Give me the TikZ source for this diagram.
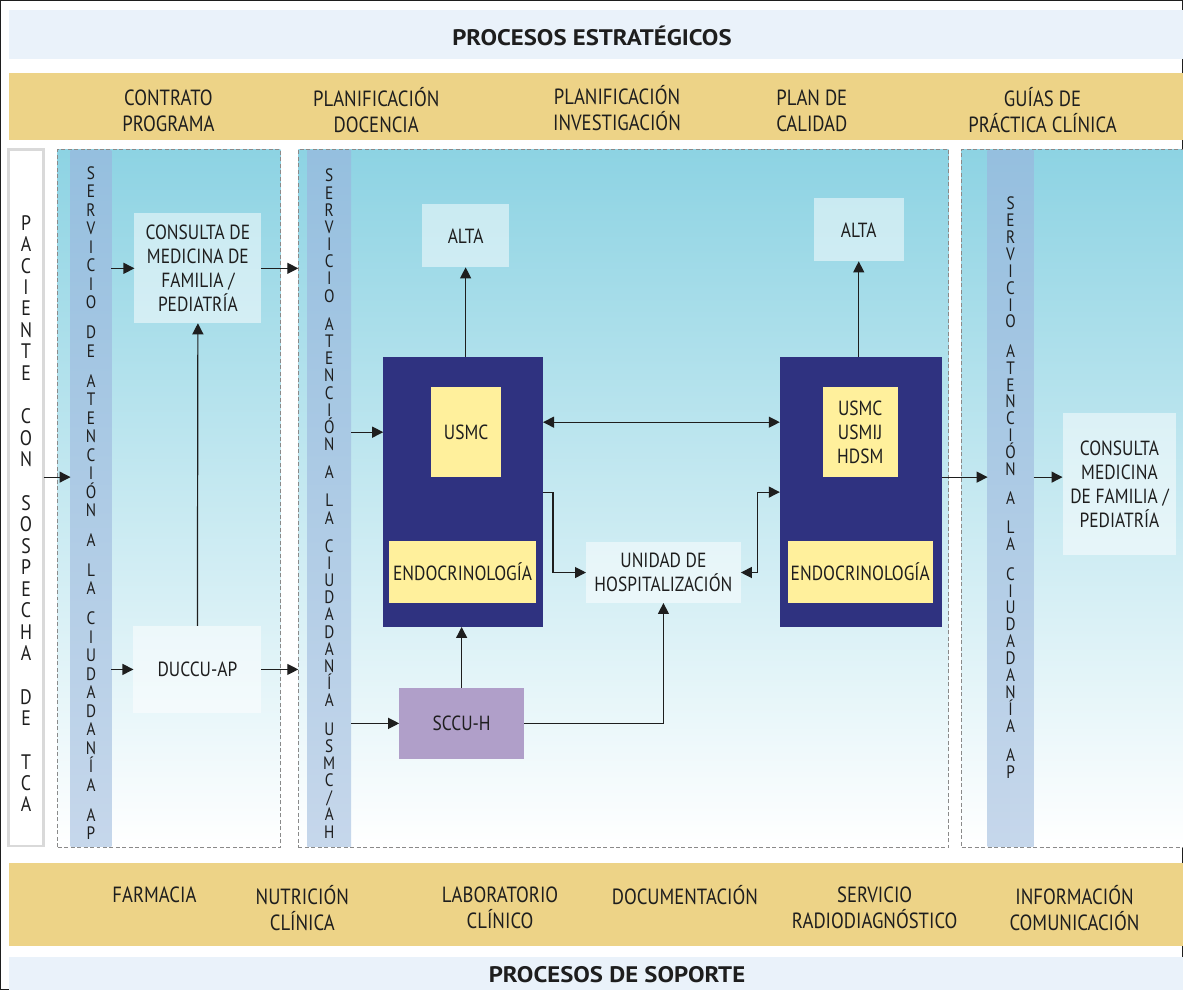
\documentclass[tikz,border=0pt]{standalone}
\usepackage{fontspec}
\setmainfont{PT Sans}[FakeStretch=0.85]
\newfontfamily\headfont{PT Sans}[FakeStretch=1.1]
\usetikzlibrary{arrows.meta}

\definecolor{goldbar}{HTML}{EDD387}
\definecolor{skybar}{HTML}{EAF2FA}
\definecolor{paneltop}{HTML}{8DD3E3}
\definecolor{panelmid}{HTML}{B8E1EA}
\definecolor{striptop}{HTML}{95BFDF}
\definecolor{stripbot}{HTML}{C6D7EB}
\definecolor{navy}{HTML}{2F3280}
\definecolor{paleyellow}{HTML}{FFF09C}
\definecolor{lilac}{HTML}{B09FC9}
\definecolor{dashgray}{HTML}{8A8A8A}
\definecolor{boxgray}{HTML}{D9D9D9}
\definecolor{inkblack}{HTML}{1E1E1E}

% letters stacked one per line
\newcommand{\stackfont}[2]{\fontsize{#1}{#2}\selectfont\lineskiplimit=-20pt\relax}

\tikzset{
	panel/.style={draw=dashgray, dash pattern=on 4pt off 2.5pt, line width=0.9pt,
		top color=paneltop, middle color=panelmid, bottom color=white,
		inner sep=0pt, outer sep=0pt, minimum height=699pt},
	strip/.style={top color=striptop, bottom color=stripbot,
		inner sep=0pt, outer sep=0pt, minimum height=697pt},
	vtext/.style={align=center, text=inkblack, inner sep=0pt},
	pale/.style={fill=white, fill opacity=0.5, text opacity=1, text=inkblack,
		align=center, inner sep=0pt, outer sep=0pt, font=\fontsize{20.5}{24}\selectfont},
	navybox/.style={fill=navy, inner sep=0pt, outer sep=0pt, minimum height=270pt},
	yellowbox/.style={fill=paleyellow, text=inkblack, align=center, inner sep=0pt,
		font=\fontsize{20.5}{24}\selectfont},
	barlabel/.style={align=center, text=inkblack, font=\fontsize{22}{26}\selectfont},
	bartitle/.style={text=inkblack, font=\headfont\fontsize{22.5}{26}\selectfont\bfseries},
	>={Triangle[length=11pt,width=11pt]},
	every path/.append style={line width=1.2pt, draw=inkblack}
}

\begin{document}
\begin{tikzpicture}[x=1pt,y=-1pt]
	\useasboundingbox (0,0) rectangle (1183,990);

	% bands of strategic and support processes
	\fill[skybar]  (9,10)  rectangle (1183,58);
	\fill[goldbar] (9,73)  rectangle (1183,139);
	\fill[goldbar] (9,864) rectangle (1183,946);
	\fill[skybar]  (9,958) rectangle (1183,990);

	\node[bartitle] (estrategicos) at (592,35) {PROCESOS ESTRATÉGICOS};
	\node[bartitle] (soporte)      at (617,975) {PROCESOS DE SOPORTE};

	\node[barlabel] (contrato)  at (168,110)  {CONTRATO\\PROGRAMA};
	\node[barlabel] (docencia)  at (376,110)  {PLANIFICACIÓN\\DOCENCIA};
	\node[barlabel] (investig)  at (617,108)  {PLANIFICACIÓN\\INVESTIGACIÓN};
	\node[barlabel] (calidad)   at (812,110)  {PLAN DE\\CALIDAD};
	\node[barlabel] (guias)     at (1043,110) {GUÍAS DE\\PRÁCTICA CLÍNICA};

	\node[barlabel] (farmacia)  at (154,895)   {FARMACIA};
	\node[barlabel] (nutricion) at (302,908.5) {NUTRICIÓN\\CLÍNICA};
	\node[barlabel] (laborat)   at (500,908.5) {LABORATORIO\\CLÍNICO};
	\node[barlabel] (document)  at (685,895)   {DOCUMENTACIÓN};
	\node[barlabel] (radiodiag) at (875,908.5) {SERVICIO\\RADIODIAGNÓSTICO};
	\node[barlabel] (comunic)   at (1075,908.5) {INFORMACIÓN\\COMUNICACIÓN};

	% dashed columns
	\node[panel, minimum width=223pt] (col1) at (168.5,498.5) {};
	\node[panel, minimum width=651pt] (col2) at (623.5,498.5) {};
	\node[panel, minimum width=240pt] (col3) at (1082,498.5)  {};

	% patient column
	\node[draw=boxgray, line width=2.2pt, fill=white, minimum width=35pt,
		minimum height=697pt, inner sep=0pt, outer sep=0pt] (paciente) at (25.5,497.5) {};
	\node[vtext, font={\stackfont{21}{21.5}}] (pacientetxt) at (25.5,513.5)
		{P\\A\\C\\I\\E\\N\\T\\E\\[22pt]C\\O\\N\\[22pt]S\\O\\S\\P\\E\\C\\H\\A\\[22pt]D\\E\\[22pt]T\\C\\A};

	% citizen service strips
	\node[strip, minimum width=41pt] (sac1) at (90.5,498.5) {};
	\node[strip, minimum width=44pt] (sac2) at (329,498.5)  {};
	\node[strip, minimum width=46pt] (sac3) at (1011,498.5) {};

	\node[vtext, font={\stackfont{18}{18.5}}] (sac1txt) at (90.5,503)
		{S\\E\\R\\V\\I\\C\\I\\O\\[11.5pt]D\\E\\[11.5pt]A\\T\\E\\N\\C\\I\\Ó\\N\\[11.5pt]A\\[11.5pt]L\\A\\[11.5pt]C\\I\\U\\D\\A\\D\\A\\N\\Í\\A\\[11.5pt]A\\P};
	\node[vtext, font={\stackfont{18}{17.2}}] (sac2txt) at (329,503.5)
		{S\\E\\R\\V\\I\\C\\I\\O\\[11pt]A\\T\\E\\N\\C\\I\\Ó\\N\\[11pt]A\\[11pt]L\\A\\[11pt]C\\I\\U\\D\\A\\D\\A\\N\\Í\\A\\[11pt]U\\S\\M\\C\\/\\A\\H};
	\node[vtext, font={\stackfont{18}{16.9}}] (sac3txt) at (1011,487.5)
		{S\\E\\R\\V\\I\\C\\I\\O\\[12.4pt]A\\T\\E\\N\\C\\I\\Ó\\N\\[12.4pt]A\\[12.4pt]L\\A\\[12.4pt]C\\I\\U\\D\\A\\D\\A\\N\\Í\\A\\[12.4pt]A\\P};

	% primary care
	\node[pale, minimum width=127pt, minimum height=110pt] (cons1) at (197.5,268)
		{CONSULTA DE\\MEDICINA DE\\FAMILIA /\\PEDIATRÍA};
	\node[pale, minimum width=128pt, minimum height=87pt] (duccu) at (197,669.5) {DUCCU-AP};

	% hospital side
	\node[pale, minimum width=87pt, minimum height=63pt] (alta1) at (465.5,235.5) {ALTA};
	\node[navybox, minimum width=160pt] (navy1) at (463,492) {};
	\node[yellowbox, minimum width=70pt, minimum height=90pt] (usmc1) at (466,432) {USMC};
	\node[yellowbox, minimum width=147pt, minimum height=62pt] (endo1) at (462.5,572) {ENDOCRINOLOGÍA};
	\node[fill=lilac, text=inkblack, inner sep=0pt, outer sep=0pt, font=\fontsize{20.5}{24}\selectfont,
		minimum width=125pt, minimum height=71pt] (sccu) at (461.5,723.5) {SCCU-H};
	\node[pale, minimum width=155pt, minimum height=61pt] (unidad) at (663.5,572.5)
		{UNIDAD DE\\HOSPITALIZACIÓN};

	\node[pale, minimum width=90pt, minimum height=63pt] (alta2) at (859,229.5) {ALTA};
	\node[navybox, minimum width=162pt] (navy2) at (861,492) {};
	\node[yellowbox, minimum width=75pt, minimum height=90pt] (usmc2) at (860.5,432) {USMC\\USMIJ\\HDSM};
	\node[yellowbox, minimum width=145pt, minimum height=62pt] (endo2) at (860.5,572) {ENDOCRINOLOGÍA};

	\node[pale, minimum width=114pt, minimum height=142pt] (cons3) at (1120,484)
		{CONSULTA\\MEDICINA\\DE FAMILIA /\\PEDIATRÍA};

	% rows shared by several connectors
	\coordinate (midrow)  at (0,477);
	\coordinate (linkrow) at (0,422);

	% connectors
	\draw[->] (paciente.east |- midrow) -- (sac1.west |- midrow);
	\draw[->] (sac1.east |- cons1) -- (cons1.west);
	\draw[->] (sac1.east |- duccu) -- (duccu.west);
	\draw[->] (cons1.east) -- (cons1.east -| col2.west);
	\draw[->] (duccu.east) -- (duccu.east -| col2.west);
	\draw[->] (duccu.north) -- (cons1.south);

	\draw[->] (sac2.east |- usmc1) -- (usmc1 -| navy1.west);
	\draw[->] (sac2.east |- sccu) -- (sccu.west);
	\draw[->] (alta1.south |- navy1.north) -- (alta1.south);
	\draw[<->] (navy1.east |- linkrow) -- (navy2.west |- linkrow);
	\draw[->] (navy1.east) -- ++(10,0) |- (unidad.west);
	\draw[<->] (unidad.east) -- ++(17,0) |- (navy2.west);
	\draw[->] (sccu.north) -- (sccu.north |- navy1.south);
	\draw[->] (sccu.east) -| (unidad.south);

	\draw[->] (alta2.south |- navy2.north) -- (alta2.south);
	\draw[->] (navy2.east |- midrow) -- (sac3.west |- midrow);
	\draw[->] (sac3.east |- midrow) -- (cons3.west |- midrow);
\end{tikzpicture}
\end{document}
